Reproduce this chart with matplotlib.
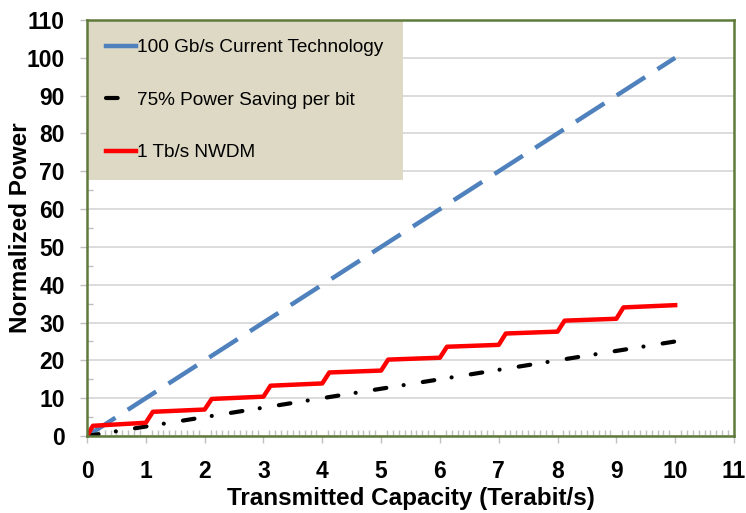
import numpy as np
import matplotlib.pyplot as plt
from matplotlib.lines import Line2D
from matplotlib.ticker import MultipleLocator

# data
capacity = [0, 1, 2, 3, 4, 5, 6, 7, 8, 9, 10]
current_tech = [0, 10, 20, 30, 40, 50, 60, 70, 80, 90, 100]
power_saving = [0, 2.5, 5, 7.5, 10, 12.5, 15, 17.5, 20, 22.5, 25]

nwdm_x = [0, 0.1, 1.0, 1.12, 2.0, 2.12, 3.0, 3.12, 4.0, 4.12, 5.0, 5.12,
          6.0, 6.12, 7.0, 7.12, 8.0, 8.12, 9.0, 9.12, 10.0]
nwdm_y = [0, 2.7, 3.5, 6.4, 7.0, 9.8, 10.4, 13.3, 13.9, 16.8, 17.3, 20.2,
          20.7, 23.6, 24.1, 27.1, 27.6, 30.5, 31.0, 34.0, 34.6]

labels = ['100 Gb/s Current Technology', '75% Power Saving per bit', '1 Tb/s NWDM']
colors = ['#4F81BD', 'black', '#FF0000']

plt.rcParams['font.family'] = ['Liberation Sans', 'DejaVu Sans']

fig = plt.figure(figsize=(7.46, 5.13), dpi=100)
ax = fig.add_axes([87 / 746, 77 / 513, (734 - 87) / 746, (436 - 20) / 513])

ax.plot(capacity, current_tech, color=colors[0], lw=3.2, dashes=(7.6, 3.3), zorder=3)
ax.plot(capacity, power_saving, color=colors[1], lw=3, dashes=(2.8, 4.2, 0.01, 4.65),
        dash_capstyle='round', zorder=3)
ax.plot(nwdm_x, nwdm_y, color=colors[2], lw=3.2, solid_joinstyle='round', zorder=4)

ax.set_xlim(0, 11)
ax.set_ylim(0, 110)
ax.xaxis.set_major_locator(MultipleLocator(1))
ax.xaxis.set_minor_locator(MultipleLocator(0.1))
ax.yaxis.set_major_locator(MultipleLocator(10))
ax.yaxis.set_minor_locator(MultipleLocator(5))

ax.grid(True, axis='y', which='major', color='#D9D9D9', lw=1.3, zorder=0)
ax.set_axisbelow(True)

ax.tick_params(axis='both', which='major', direction='out', length=5,
               color='#BFBFBF', width=1, labelsize=16.5, pad=11)
ax.tick_params(axis='x', which='major', pad=12.5)
ax.tick_params(axis='both', which='minor', direction='in', length=4,
               color='#BFBFBF', width=1)
for lab in ax.get_xticklabels() + ax.get_yticklabels():
    lab.set_fontweight('bold')

for sp in ax.spines.values():
    sp.set_color('#5F7A3A')
    sp.set_linewidth(1.8)
    sp.set_zorder(5)

ax.set_xlabel('Transmitted Capacity (Terabit/s)', fontsize=17.5,
              fontweight='bold', labelpad=2.5)
ax.set_ylabel('Normalized Power', fontsize=17.5, fontweight='bold')
ax.yaxis.set_label_coords(-0.085, 0.5)

# legend keys as in the original: short solid strokes, black one shorter
handles = [
    Line2D([], [], color=colors[0], lw=3.2),
    Line2D([], [], color=colors[1], lw=3, dashes=(2.8, 10), dash_capstyle='round'),
    Line2D([], [], color=colors[2], lw=3.2),
]
leg = ax.legend(handles, labels, loc='upper left', bbox_to_anchor=(0, 1),
                borderaxespad=0, fontsize=13.7, frameon=True, fancybox=False,
                framealpha=1, facecolor='#DDD9C4', edgecolor='none',
                handlelength=1.6, handletextpad=0.05, labelspacing=1.85,
                borderpad=1.0)
leg.set_zorder(4.5)

fig.savefig('out.png', dpi=100)
